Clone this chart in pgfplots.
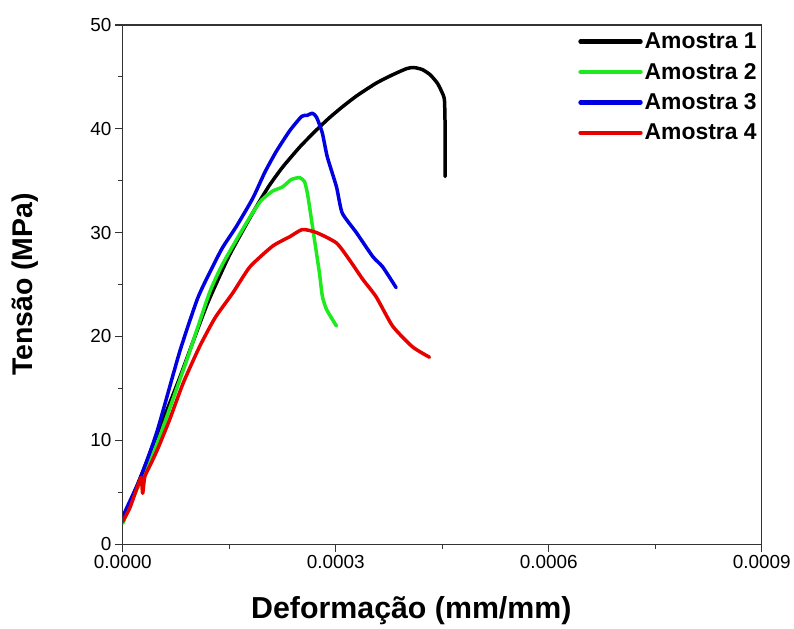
\documentclass[border=0pt]{standalone}
\usepackage{pgfplots}
\pgfplotsset{compat=1.18}
\usepackage{fontspec}
\setmainfont{Liberation Sans}
\definecolor{cgreen}{RGB}{30,235,30}
\definecolor{cblue}{RGB}{0,0,225}
\definecolor{cred}{RGB}{230,0,0}
\begin{document}
\begin{tikzpicture}
\path (-123bp,-80bp) rectangle (671bp,545bp);
\begin{axis}[
  scale only axis, width=640bp, height=520bp,
  xmin=0, xmax=0.0009, ymin=0, ymax=50,
  scaled x ticks=false,
  xtick={0,0.0003,0.0006,0.0009},
  xticklabels={0.0000,0.0003,0.0006,0.0009},
  ytick={0,10,20,30,40,50},
  minor x tick num=1, minor y tick num=1,
  tick pos=left, tick align=outside,
  major tick length=8bp, minor tick length=5bp,
  axis line style={line width=1.2bp, black!80},
  every tick/.style={line width=1.2bp, black!80},
  /pgf/number format/assume math mode=true,
  ticklabel style={font=\fontsize{19}{21}\selectfont},
  xlabel={\textbf{Deformação (mm/mm)}},
  ylabel={\textbf{Tensão (MPa)}},
  xlabel style={font=\fontsize{30.5}{32}\selectfont, at={(axis description cs:0.4516,-0.144)}, anchor=base},
  ylabel style={font=\fontsize{28.6}{32}\selectfont, at={(axis description cs:-0.153,0.5)}, anchor=center},
  legend style={at={(rel axis cs:1,1)}, anchor=north east, draw=none, fill=none,
    font=\fontsize{23}{25}\selectfont\bfseries, row sep=9bp, xshift=0bp, yshift=-4bp},
  legend cell align=left,
  legend image code/.code={\draw[#1, line width=4.5bp] (0bp,0bp) -- (60bp,0bp);},
  every axis plot/.append style={line width=3.5bp, line join=round, line cap=round, smooth, tension=0.35},
]
\addplot[black] coordinates {
(0,2.1) (0.00001,3.9) (0.00003,7.3) (0.00005,10.8) (0.00008,16.0) (0.0001,19.7)
(0.00012,23.3) (0.00015,27.8) (0.000183,31.9) (0.000205,34.4) (0.000225,36.3)
(0.00025,38.3) (0.000273,39.9) (0.00029,41.0) (0.000309,42.1) (0.00033,43.2)
(0.000357,44.4) (0.00038,45.2) (0.0004,45.8) (0.00041,45.9) (0.000422,45.7)
(0.000433,45.2) (0.000443,44.4) (0.000449,43.6) (0.000453,42.8) (0.000454,40.0)
(0.000454,37.0) (0.000454,35.4)
};
\addlegendentry{Amostra 1}
\addplot[cgreen] coordinates {
(0,2.0) (0.00001,3.8) (0.000028,6.5) (0.00005,10.0) (0.000075,14.8) (0.000094,18.5)
(0.000122,24.2) (0.00014,26.9) (0.00016,29.3) (0.00018,31.6) (0.000195,33.1)
(0.000211,34.0) (0.000225,34.4) (0.000237,35.1) (0.000249,35.3) (0.000256,34.9)
(0.00026,33.8) (0.000263,32.5) (0.00027,29.3) (0.000277,26.1) (0.000281,23.9)
(0.000287,22.6) (0.000301,21.0)
};
\addlegendentry{Amostra 2}
\addplot[cblue] coordinates {
(0,2.2) (0.000003,3.1) (0.000024,6.25) (0.000048,10.8) (0.00008,18.5) (0.000105,23.6)
(0.000122,26.1) (0.00014,28.5) (0.00016,30.6) (0.000183,33.3) (0.0002,35.8)
(0.000216,37.8) (0.000235,39.8) (0.000252,41.2) (0.00026,41.3) (0.000267,41.5)
(0.000273,41.1) (0.000281,39.6) (0.000288,37.3) (0.000301,34.4) (0.000309,31.9)
(0.000329,30.0) (0.000352,27.7) (0.000366,26.7) (0.000385,24.7)
};
\addlegendentry{Amostra 3}
\addplot[cred] coordinates {
(0,2.2) (0.00001,3.5) (0.000022,5.8) (0.000026,6.4) (0.000028,4.9) (0.000031,6.5)
(0.00004,7.8) (0.00005,9.3) (0.000066,12.0) (0.000085,15.5) (0.000108,19.0)
(0.00013,21.8) (0.000155,24.2) (0.000179,26.7) (0.000211,28.7) (0.000235,29.6)
(0.000253,30.3) (0.000273,30.0) (0.000301,29.0) (0.000319,27.4) (0.000338,25.5)
(0.000357,23.8) (0.00038,21.0) (0.000408,19.0) (0.000432,18.0)
};
\addlegendentry{Amostra 4}
\end{axis}
\end{tikzpicture}
\end{document}
